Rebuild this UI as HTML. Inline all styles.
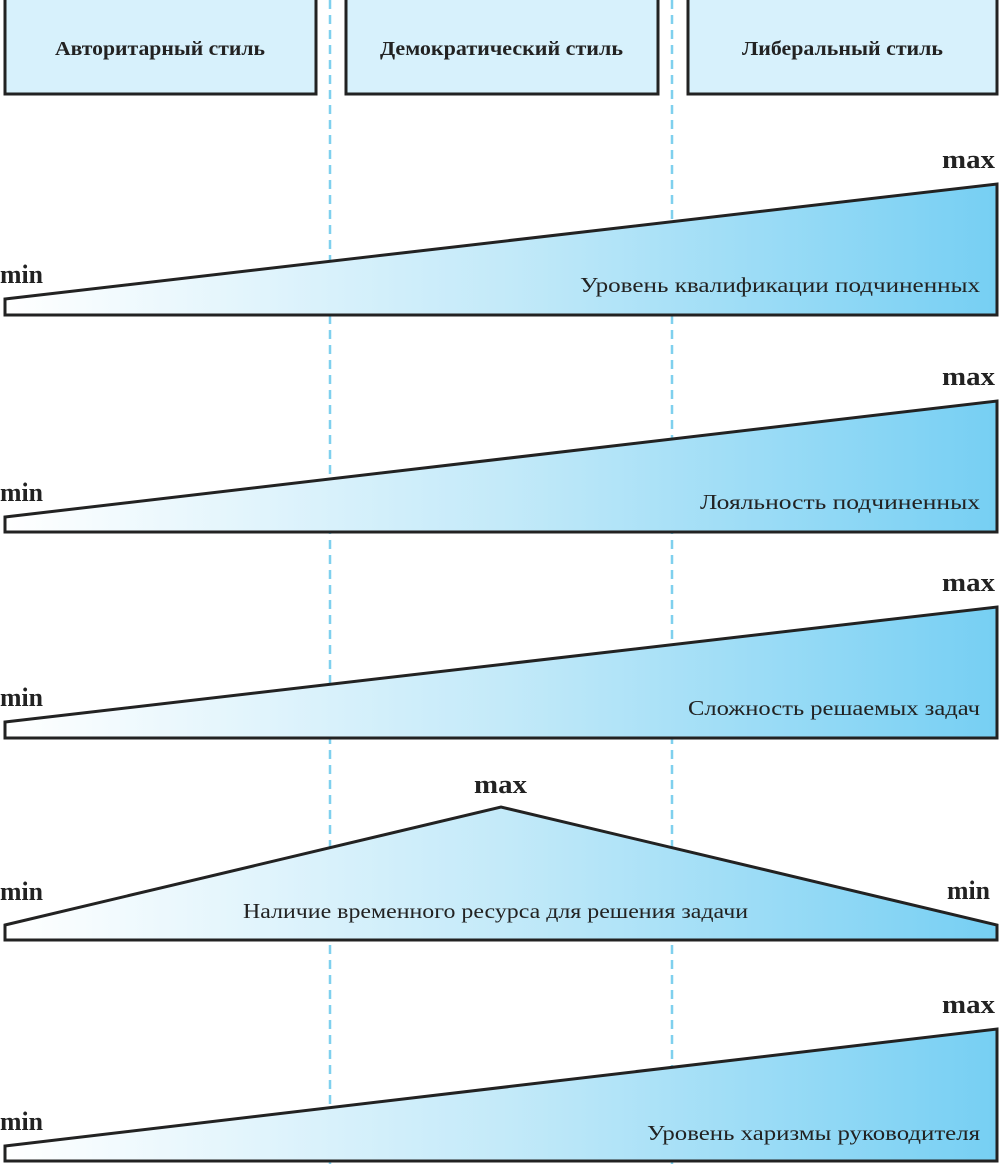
<!DOCTYPE html>
<html><head><meta charset="utf-8"><style>body{margin:0;background:#fff}svg{display:block}text{font-family:"Liberation Serif","DejaVu Serif",serif}</style></head><body>
<svg width="1000" height="1164" viewBox="0 0 1000 1164" xmlns="http://www.w3.org/2000/svg">
<defs><linearGradient id="g" x1="0" x2="1" y1="0" y2="0"><stop offset="0" stop-color="#ffffff"/><stop offset="0.5" stop-color="#c4eaf9"/><stop offset="1" stop-color="#76cff3"/></linearGradient></defs>
<g stroke="#7fd0ee" stroke-width="2.5" stroke-dasharray="9,6"><line x1="330" y1="0" x2="330" y2="1164"/><line x1="672" y1="0" x2="672" y2="1164"/></g>
<g fill="#d7f1fc" stroke="#222" stroke-width="3"><rect x="5" y="-2" width="311" height="96"/><rect x="346" y="-2" width="312" height="96"/><rect x="688" y="-2" width="309" height="96"/></g>
<g font-weight="bold" font-size="20" fill="#222" lengthAdjust="spacingAndGlyphs"><text x="55" y="55" textLength="210" lengthAdjust="spacingAndGlyphs">Авторитарный стиль</text><text x="380" y="55" textLength="243" lengthAdjust="spacingAndGlyphs">Демократический стиль</text><text x="742" y="55" textLength="201" lengthAdjust="spacingAndGlyphs">Либеральный стиль</text></g>
<g fill="url(#g)" stroke="#222" stroke-width="3" stroke-linejoin="miter">
<polygon points="5,299 997,184 997,315 5,315"/>
<polygon points="5,517 997,401 997,532 5,532"/>
<polygon points="5,722 997,607 997,738 5,738"/>
<polygon points="5,925 501,807 997,925 997,940 5,940"/>
<polygon points="5,1146 997,1029 997,1161 5,1161"/>
</g>
<g font-weight="bold" font-size="26" fill="#222">
<text x="0" y="283" textLength="43" lengthAdjust="spacingAndGlyphs">min</text><text x="942" y="168" textLength="53" lengthAdjust="spacingAndGlyphs">max</text>
<text x="0" y="501" textLength="43" lengthAdjust="spacingAndGlyphs">min</text><text x="942" y="385" textLength="53" lengthAdjust="spacingAndGlyphs">max</text>
<text x="0" y="706" textLength="43" lengthAdjust="spacingAndGlyphs">min</text><text x="942" y="591" textLength="53" lengthAdjust="spacingAndGlyphs">max</text>
<text x="0" y="900" textLength="43" lengthAdjust="spacingAndGlyphs">min</text><text x="474" y="793" textLength="53" lengthAdjust="spacingAndGlyphs">max</text><text x="947" y="899" textLength="43" lengthAdjust="spacingAndGlyphs">min</text>
<text x="0" y="1130" textLength="43" lengthAdjust="spacingAndGlyphs">min</text><text x="942" y="1013" textLength="53" lengthAdjust="spacingAndGlyphs">max</text>
</g>
<g font-size="21" fill="#222">
<text x="580" y="292" textLength="400" lengthAdjust="spacingAndGlyphs">Уровень квалификации подчиненных</text>
<text x="700" y="509" textLength="280" lengthAdjust="spacingAndGlyphs">Лояльность  подчиненных</text>
<text x="688" y="715" textLength="292" lengthAdjust="spacingAndGlyphs">Сложность решаемых задач</text>
<text x="243" y="918" textLength="505" lengthAdjust="spacingAndGlyphs">Наличие временного ресурса для решения задачи</text>
<text x="647" y="1140" textLength="333" lengthAdjust="spacingAndGlyphs">Уровень харизмы руководителя</text>
</g>
</svg>
</body></html>
